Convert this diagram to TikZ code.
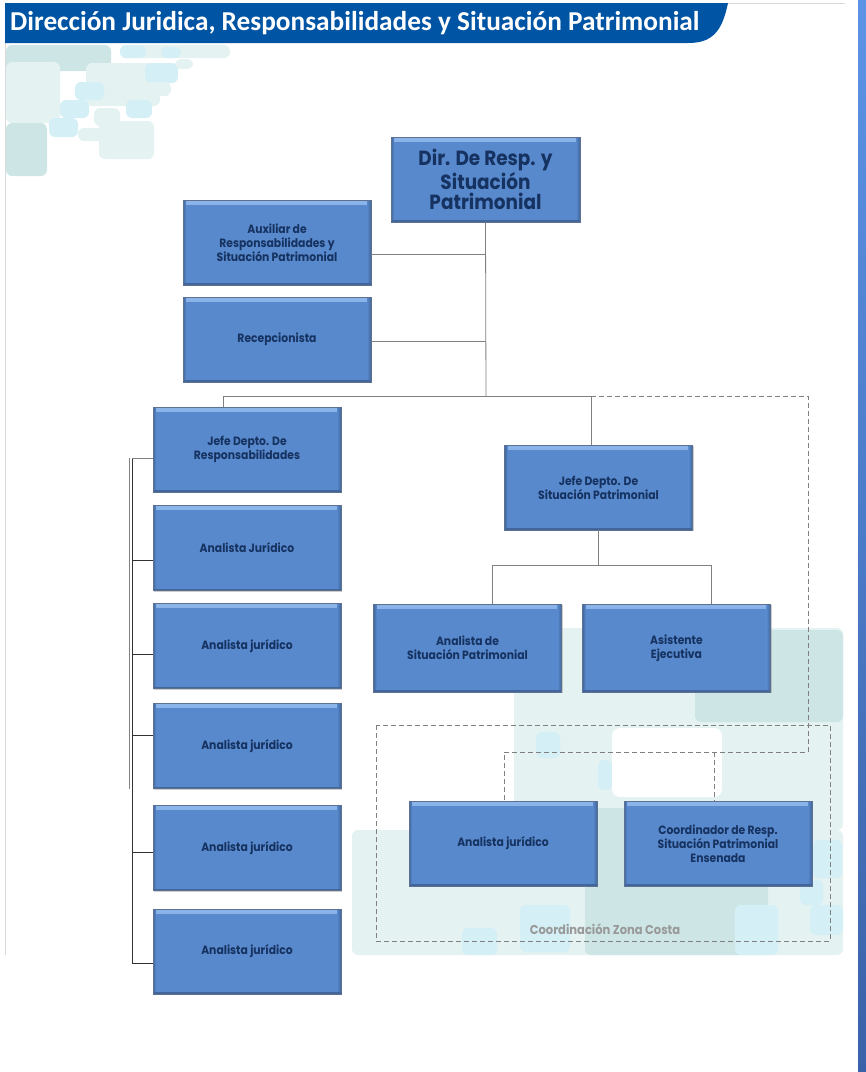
\documentclass[tikz,border=0pt]{standalone}
\usepackage{fontspec}
\newfontfamily\cargofont{Poppins}[FakeStretch=0.9]
\newfontfamily\titulofont{Carlito}
\usetikzlibrary{shadows}

\definecolor{azulcargo}{RGB}{88,137,204}
\definecolor{azulclaro}{RGB}{140,182,234}
\definecolor{azulborde}{RGB}{52,78,120}
\definecolor{textocargo}{RGB}{22,50,96}
\definecolor{azultitulo}{RGB}{0,84,164}
\definecolor{fondoa}{RGB}{228,242,242}
\definecolor{fondob}{RGB}{205,230,229}
\definecolor{fondoc}{RGB}{212,239,245}
\definecolor{linea}{RGB}{128,128,128}
\definecolor{franjaa}{RGB}{93,147,230}
\definecolor{franjab}{RGB}{59,139,255}
\definecolor{franjac}{RGB}{58,98,168}

\tikzset{
  cargo/.style={rectangle, minimum width=188pt, minimum height=85pt, inner sep=2pt,
    fill=azulcargo, draw=azulborde!80, line width=0.6pt, align=center, text=textocargo,
    font=\cargofont\bfseries\fontsize{12}{14}\selectfont,
    drop shadow={shadow xshift=1pt, shadow yshift=-1.2pt, fill=black!40, opacity=0.5},
    path picture={
      \shade[top color=azulclaro, bottom color=azulcargo]
        (path picture bounding box.north west) rectangle ([yshift=-4pt]path picture bounding box.north east);
      \shade[left color=azulcargo, right color=azulborde!60!azulcargo]
        ([xshift=-4pt]path picture bounding box.south east) rectangle (path picture bounding box.north east);
      \shade[left color=azulborde!60!azulcargo, right color=azulcargo]
        (path picture bounding box.south west) rectangle ([xshift=3pt]path picture bounding box.north west);
      \fill[azulborde!60!azulcargo]
        (path picture bounding box.south west) rectangle ([yshift=2pt]path picture bounding box.south east);
    }},
  cargodir/.style={cargo, minimum width=189pt, font=\cargofont\bfseries\fontsize{20.5}{20.5}\selectfont},
  enlace/.style={draw=linea, line width=0.8pt},
  enlacenegro/.style={draw=black!80, line width=0.8pt},
  punteado/.style={draw=linea, line width=0.8pt, dash pattern=on 5pt off 3pt},
}

\begin{document}
\begin{tikzpicture}[x=1pt, y=-1pt]
    \useasboundingbox (0,0) rectangle (866,1072);

    % fondo de la diapositiva
    \foreach \xa/\ya/\xb/\yb/\c in {
        6/45/111/71/fondob, 6/62/60/123/fondoa, 6/123/47/176/fondob,
        86/63/160/106/fondoa, 120/45/230/58/fondoa, 120/45/146/58/fondoc,
        161/47/181/58/fondoc, 145/63/178/83/fondoc, 175/59/193/69/fondoa,
        145/82/171/96/fondoa, 126/100/152/118/fondoc, 75/82/104/100/fondoc,
        60/100/89/118/fondoc, 49/118/78/137/fondoc, 94/108/120/126/fondoa,
        78/128/104/141/fondoa, 99/121/154/159/fondoa,
        514/628/843/830/fondoa, 695/630/843/722/fondob,
        352/830/843/955/fondoa, 585/808/768/955/fondob,
        536/732/560/758/fondoc, 598/760/612/790/fondoc, 812/840/842/878/fondoc,
        800/880/823/905/fondoc, 810/905/843/935/fondoc, 520/905/570/952/fondoc,
        462/928/497/955/fondoc, 735/905/778/955/fondoc}
      \fill[\c, rounded corners=6pt] (\xa,\ya) rectangle (\xb,\yb);
    \fill[white, rounded corners=8pt] (612,728) rectangle (722,797);
    \fill[white] (376,722) rectangle (514,830);
    \draw[black!15] (5.5,43) -- (5.5,955);
    \draw[black!15] (728,3.5) -- (845,3.5);
    \shade[top color=franjaa, middle color=franjab, bottom color=franjac] (858,0) rectangle (866,1072);

    % banda del titulo
    \fill[azultitulo] (5,3) -- (728,3) .. controls (722,32) and (712,43) .. (688,43) -- (5,43) -- cycle;
    \node[anchor=west, text=white, font=\titulofont\bfseries\fontsize{27.3}{27}\selectfont, inner sep=0pt]
      (titulo) at (10,23) {Dirección Juridica, Responsabilidades y Situación Patrimonial};

    % cargos
    \node[cargodir] (dir) at (485.5,179.5) {Dir. De Resp. y\\Situación\\Patrimonial};
    \node[cargo] (aux) at (277,242.5) {Auxiliar de\\Responsabilidades y\\Situación Patrimonial};
    \node[cargo] (recep) at (277,339.5) {Recepcionista};
    \node[cargo] (jresp) at (247,449.5) {Jefe Depto. De\\Responsabilidades};
    \node[cargo] (aj1) at (247,548) {Analista Jurídico};
    \node[cargo] (aj2) at (247,646) {Analista jurídico};
    \node[cargo] (aj3) at (247,746) {Analista jurídico};
    \node[cargo] (aj4) at (247,848) {Analista jurídico};
    \node[cargo] (aj5) at (247,951.5) {Analista jurídico};
    \node[cargo] (jsit) at (598.5,487.5) {Jefe Depto. De\\Situación Patrimonial};
    \node[cargo, minimum height=88pt] (asit) at (467.5,648) {Analista de\\Situación Patrimonial};
    \node[cargo, minimum height=88pt] (asis) at (676.5,648) {Asistente\\Ejecutiva};
    \node[cargo] (ajc) at (503,843.5) {Analista jurídico};
    \node[cargo] (coord) at (718,843.5) {Coordinador de Resp.\\Situación Patrimonial\\Ensenada};

    % puntos de union
    \coordinate (nudo) at (486,396);
    \coordinate (busizq) at (223,396);
    \coordinate (busder) at (591,396);
    \coordinate (auxr) at ([yshift=-11.5pt]aux.east);
    \coordinate (recepr) at ([yshift=-1.5pt]recep.east);
    \coordinate (sitbus) at ([yshift=-35pt]jsit.south);
    \coordinate (sitizq) at (492,565);
    \coordinate (sitder) at (711,565);
    \coordinate (costader) at (808,752);
    \coordinate (costaizq) at (504,752);
    \coordinate (costamed) at (714,752);
    \coordinate (tronco) at (132,458);
    \coordinate (troncofin) at (132,963);
    \coordinate (tronquito) at (129,458);
    \coordinate (tronquitofin) at (129,789);

    % lineas de mando
    \draw[enlace] (dir.south) -- (nudo);
    \draw[enlace] (auxr) -- (auxr -| nudo);
    \draw[enlace] (recepr) -- (recepr -| nudo);
    \draw[enlace] (busizq) -- (busder);
    \draw[enlace] (busizq) -- (busizq |- jresp.north);
    \draw[enlace] (busder) -- (busder |- jsit.north);
    \draw[enlace] (jsit.south) -- (sitbus);
    \draw[enlace] (sitizq) -- (sitder);
    \draw[enlace] (sitizq) -- (sitizq |- asit.north);
    \draw[enlace] (sitder) -- (sitder |- asis.north);

    % columna de responsabilidades
    \draw[enlace] (tronquito) -- (tronquitofin);
    \draw[enlacenegro] (tronco) -- (troncofin);
    \draw[enlace] (tronco) -- (tronco -| jresp.west);
    \foreach \n/\d in {aj1/-12, aj2/-8, aj3/11, aj4/-4, aj5/-11.5} {
      \coordinate (p) at ([yshift=\d pt]\n.west);
      \draw[enlacenegro] (p) -- (p -| tronco);
    }

    % zona costa
    \draw[punteado] (busder) -- (busder -| costader) -- (costader) -- (costaizq) -- (costaizq |- ajc.north);
    \draw[punteado] (costamed) -- (costamed |- coord.north);
    \draw[punteado] (376,725) rectangle (830,941);
    \node[text=black!40, font=\cargofont\bfseries\fontsize{12.8}{13}\selectfont] (costa) at (605,929) {Coordinación Zona Costa};
\end{tikzpicture}
\end{document}
